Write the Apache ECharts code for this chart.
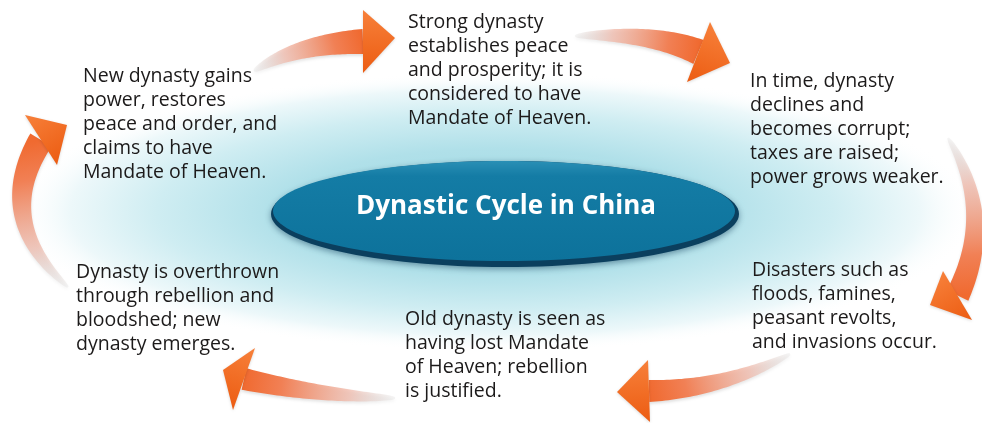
<!DOCTYPE html>
<html><head><meta charset="utf-8">
<script src="https://cdn.jsdelivr.net/npm/echarts@6/dist/echarts.min.js"></script>
<style>html,body{margin:0;padding:0;background:#fff}#c{width:982px;height:423px}</style>
</head><body><div id="c"></div>
<script>
// ---- content ----
const centerTitle = 'Dynastic Cycle in China';
const stageNewDynasty = ['New dynasty gains', 'power, restores', 'peace and order, and', 'claims to have', 'Mandate of Heaven.'];
const stageStrong = ['Strong dynasty', 'establishes peace', 'and prosperity; it is', 'considered to have', 'Mandate of Heaven.'];
const stageDecline = ['In time, dynasty', 'declines and', 'becomes corrupt;', 'taxes are raised;', 'power grows weaker.'];
const stageDisasters = ['Disasters such as', 'floods, famines,', 'peasant revolts,', 'and invasions occur.'];
const stageLostMandate = ['Old dynasty is seen as', 'having lost Mandate', 'of Heaven; rebellion', 'is justified.'];
const stageOverthrown = ['Dynasty is overthrown', 'through rebellion and', 'bloodshed; new', 'dynasty emerges.'];
const cycleOrder = [stageNewDynasty, stageStrong, stageDecline, stageDisasters, stageLostMandate, stageOverthrown];

// ---- layout (positions / styles) ----
const blockLayout = [
  {x: 83, y: 65}, {x: 408, y: 11}, {x: 750, y: 70},
  {x: 752, y: 259}, {x: 405, y: 308}, {x: 76, y: 261}
];
const arrowLayout = [
  {tail: [254, 71], ctrl: [296, 44], base: [[363, 10], [363, 73]], tip: [395, 38], w1: 25},
  {tail: [575, 36], ctrl: [652, 32], base: [[710, 22], [687, 82]], tip: [730, 63], w1: 26},
  {tail: [948, 138], ctrl: [996, 215], base: [[943, 271], [972, 320]], tip: [930, 305], w1: 24},
  {tail: [790, 354], ctrl: [724, 389], base: [[648, 360], [650, 422]], tip: [617, 392], w1: 22},
  {tail: [395, 398], ctrl: [320, 396], base: [[255, 348], [233, 410]], tip: [223, 370], w1: 22},
  {tail: [68, 287], ctrl: [-8, 220], base: [[25, 115], [57, 165]], tip: [67, 125], w1: 25}
];

function quad(p0, c, p1, t) {
  const u = 1 - t;
  return [u*u*p0[0] + 2*u*t*c[0] + t*t*p1[0], u*u*p0[1] + 2*u*t*c[1] + t*t*p1[1]];
}
function quadD(p0, c, p1, t) {
  return [2*(1-t)*(c[0]-p0[0]) + 2*t*(p1[0]-c[0]), 2*(1-t)*(c[1]-p0[1]) + 2*t*(p1[1]-c[1])];
}
function bodyPoints(p0, c, p1, w0, w1) {
  const L = [], R = [], n = 48;
  for (let i = 0; i <= n; i++) {
    const t = i / n;
    const p = quad(p0, c, p1, t), d = quadD(p0, c, p1, t);
    const len = Math.hypot(d[0], d[1]) || 1;
    const nx = -d[1] / len, ny = d[0] / len;
    const w = (w0 + (w1 - w0) * Math.pow(t, 0.6)) / 2;
    L.push([p[0] + nx*w, p[1] + ny*w]);
    R.push([p[0] - nx*w, p[1] - ny*w]);
  }
  return L.concat(R.reverse());
}

const elements = [];
// background glow
elements.push({
  type: 'circle', x: 495, y: 212, scaleX: 3.45, scaleY: 1, z: 0,
  shape: {cx: 0, cy: 0, r: 140},
  style: {fill: new echarts.graphic.RadialGradient(0.5, 0.5, 0.5, [
    {offset: 0, color: '#9fd7e2'},
    {offset: 0.45, color: '#b0e0e9'},
    {offset: 0.7, color: '#cfedf2'},
    {offset: 0.88, color: '#edf8fa'},
    {offset: 1, color: 'rgba(255,255,255,0)'}
  ])}
});
// central ellipse
elements.push({
  type: 'ellipse', z: 2,
  shape: {cx: 505, cy: 214, rx: 234, ry: 53},
  style: {fill: '#0b3f5e', shadowBlur: 6, shadowColor: 'rgba(0,40,70,0.45)', shadowOffsetY: 2}
});
elements.push({
  type: 'ellipse', z: 3,
  shape: {cx: 504, cy: 211, rx: 231, ry: 50},
  style: {fill: new echarts.graphic.LinearGradient(0, 0, 0, 1, [
    {offset: 0, color: '#2a8fb5'},
    {offset: 0.15, color: '#147ca5'},
    {offset: 1, color: '#0d729b'}
  ])}
});
elements.push({
  type: 'text', z: 5,
  style: {text: centerTitle, x: 506, y: 207, align: 'center', verticalAlign: 'middle',
          font: '700 26px "Open Sans"', fill: '#ffffff'}
});
// arrows
arrowLayout.forEach(a => {
  const end = [(a.base[0][0] + a.base[1][0]) / 2, (a.base[0][1] + a.base[1][1]) / 2];
  elements.push({
    type: 'polygon', z: 4,
    shape: {points: bodyPoints(a.tail, a.ctrl, end, 2, a.w1)},
    style: {
      fill: new echarts.graphic.LinearGradient(a.tail[0], a.tail[1], end[0], end[1], [
        {offset: 0, color: 'rgba(215,215,215,0.25)'},
        {offset: 0.3, color: 'rgba(240,185,170,0.75)'},
        {offset: 0.75, color: '#f18055'},
        {offset: 1, color: '#f06a30'}
      ], true),
      shadowBlur: 3, shadowColor: 'rgba(0,0,0,0.12)', shadowOffsetY: 2
    }
  });
  elements.push({
    type: 'polygon', z: 5,
    shape: {points: [a.base[0], a.tip, a.base[1]]},
    style: {
      fill: new echarts.graphic.LinearGradient(a.base[0][0], a.base[0][1], a.base[1][0], a.base[1][1], [
        {offset: 0, color: '#f7803a'},
        {offset: 1, color: '#ec5c12'}
      ], true),
      shadowBlur: 3, shadowColor: 'rgba(0,0,0,0.15)', shadowOffsetY: 1
    }
  });
});
// text blocks
cycleOrder.forEach((lines, i) => {
  elements.push({
    type: 'text', z: 6,
    style: {text: lines.join('\n'), x: blockLayout[i].x, y: blockLayout[i].y,
            align: 'left', verticalAlign: 'top', lineHeight: 23.8,
            font: '19.5px "Open Sans"', fill: '#1c1a1a'}
  });
});

const chart = echarts.init(document.getElementById('c'), null, {renderer: 'canvas'});
chart.setOption({backgroundColor: '#ffffff', animation: false, graphic: {elements}});
</script>
</body></html>
